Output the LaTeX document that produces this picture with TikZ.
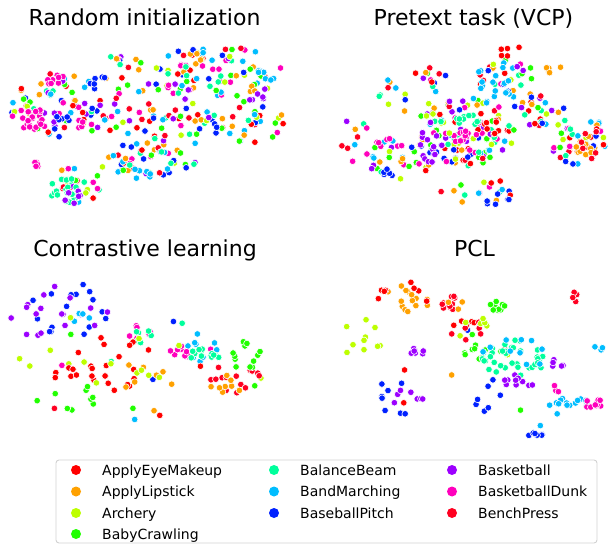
\documentclass[tikz,border=0pt]{standalone}
\usepackage{fontspec}
\setmainfont{DejaVu Sans}
\usepackage{tikz}

\definecolor{eyemakeup}{HTML}{FF0000}
\definecolor{lipstick}{HTML}{FFA100}
\definecolor{archery}{HTML}{BDFF00}
\definecolor{crawling}{HTML}{21FF00}
\definecolor{beam}{HTML}{00FF9C}
\definecolor{marching}{HTML}{00BDFF}
\definecolor{pitch}{HTML}{0021FF}
\definecolor{basketball}{HTML}{9C00FF}
\definecolor{dunk}{HTML}{FF00BD}
\definecolor{bench}{HTML}{FF0021}

\tikzset{
	tsnedot/.style={fill=#1, draw=white, line width=0.6pt},
	paneltitle/.style={font=\fontsize{22}{26}\selectfont, anchor=base},
	legendtext/.style={font=\fontsize{14}{16}\selectfont, anchor=base west, inner sep=0pt},
	legendframe/.style={draw=black!18, line width=0.9pt, rounded corners=3pt}
}

\pgfmathdeclarerandomlist{classes}{{eyemakeup}{lipstick}{archery}{crawling}{beam}{marching}{pitch}{basketball}{dunk}{bench}}

% #6 dots of class #1 spread over an ellipse at (#2,#3), radii #4 and #5
\newcommand\cloud[6]{%
	\foreach \k in {1,...,#6}{
		\pgfmathsetmacro\ang{360*rnd}
		\pgfmathsetmacro\rad{sqrt(rnd)}
		\filldraw[tsnedot=#1] ({#2+#4*\rad*cos(\ang)},{#3+#5*\rad*sin(\ang)}) circle (3.3pt);
	}}
% the same, every dot of a random class
\newcommand\mixcloud[5]{%
	\foreach \k in {1,...,#5}{
		\pgfmathrandomitem{\cls}{classes}
		\pgfmathsetmacro\ang{360*rnd}
		\pgfmathsetmacro\rad{sqrt(rnd)}
		\filldraw[tsnedot=\cls] ({#1+#3*\rad*cos(\ang)},{#2+#4*\rad*sin(\ang)}) circle (3.3pt);
	}}

\begin{document}
\begin{tikzpicture}[x=1pt,y=-1pt]
	\useasboundingbox (0,0) rectangle (613,545);
	\pgfmathsetseed{11}

	\node[paneltitle] (t-random) at (144.5,26) {Random initialization};
	\node[paneltitle] (t-vcp) at (473.5,26) {Pretext task (VCP)};
	\node[paneltitle] (t-contrast) at (145,257) {Contrastive learning};
	\node[paneltitle] (t-pcl) at (474.5,257) {PCL};

	% random initialization
	\mixcloud{215}{72}{68}{26}{85}
	\mixcloud{150}{118}{62}{38}{80}
	\mixcloud{58}{105}{48}{32}{60}
	\mixcloud{245}{122}{40}{22}{35}
	\mixcloud{150}{163}{50}{14}{38}
	\mixcloud{75}{183}{28}{20}{22}
	\mixcloud{120}{68}{25}{14}{12}
	\cloud{dunk}{30}{118}{18}{12}{22}
	\cloud{dunk}{55}{80}{10}{7}{8}
	\cloud{dunk}{40}{163}{7}{5}{5}
	\cloud{dunk}{85}{125}{8}{8}{5}
	\cloud{beam}{65}{190}{25}{14}{20}
	\cloud{pitch}{95}{80}{10}{10}{6}
	\cloud{pitch}{60}{125}{10}{12}{6}
	\cloud{marching}{265}{75}{15}{6}{6}
	\cloud{marching}{140}{175}{15}{10}{6}
	\cloud{basketball}{70}{196}{12}{8}{6}
	\cloud{basketball}{262}{95}{14}{10}{6}

	% pretext task
	\mixcloud{468}{132}{48}{34}{115}
	\mixcloud{415}{92}{38}{28}{28}
	\mixcloud{505}{82}{32}{26}{34}
	\mixcloud{580}{140}{30}{25}{44}
	\mixcloud{540}{110}{25}{18}{22}
	\mixcloud{398}{160}{35}{20}{28}
	\mixcloud{478}{190}{40}{14}{16}
	\mixcloud{360}{140}{20}{28}{10}
	\cloud{marching}{495}{82}{22}{16}{14}
	\cloud{dunk}{465}{137}{14}{6}{10}
	\cloud{dunk}{390}{143}{14}{5}{7}
	\cloud{basketball}{430}{145}{12}{18}{14}
	\cloud{eyemakeup}{492}{127}{14}{7}{8}
	\cloud{beam}{465}{120}{15}{6}{10}
	\cloud{pitch}{389}{173}{8}{4}{6}
	\cloud{eyemakeup}{512}{52}{15}{7}{6}
	\cloud{lipstick}{555}{70}{12}{4}{5}
	\cloud{lipstick}{588}{150}{15}{12}{8}
	\cloud{bench}{592}{145}{16}{14}{6}
	\cloud{pitch}{490}{200}{25}{7}{6}

	% contrastive learning
	\mixcloud{140}{370}{130}{60}{15}
	\cloud{pitch}{70}{310}{40}{28}{16}
	\cloud{basketball}{60}{315}{50}{30}{18}
	\cloud{marching}{85}{320}{15}{10}{4}
	\cloud{marching}{200}{348}{18}{15}{9}
	\cloud{dunk}{180}{353}{10}{7}{11}
	\cloud{beam}{205}{355}{20}{6}{14}
	\cloud{dunk}{140}{333}{12}{8}{6}
	\cloud{beam}{140}{335}{12}{8}{7}
	\cloud{eyemakeup}{110}{365}{45}{30}{18}
	\cloud{bench}{235}{378}{25}{15}{14}
	\cloud{lipstick}{228}{385}{20}{10}{8}
	\cloud{lipstick}{145}{395}{35}{35}{8}
	\cloud{archery}{100}{350}{95}{40}{14}
	\cloud{crawling}{252}{355}{28}{15}{12}
	\cloud{crawling}{90}{400}{60}{15}{10}
	\cloud{eyemakeup}{65}{375}{12}{10}{6}

	% PCL
	\mixcloud{470}{370}{130}{70}{12}
	\cloud{lipstick}{410}{298}{25}{14}{14}
	\cloud{eyemakeup}{405}{296}{28}{14}{8}
	\cloud{bench}{455}{303}{15}{10}{10}
	\cloud{lipstick}{455}{305}{10}{6}{3}
	\cloud{crawling}{500}{306}{12}{6}{10}
	\cloud{bench}{575}{297}{6}{5}{4}
	\cloud{eyemakeup}{460}{323}{15}{3}{5}
	\cloud{archery}{360}{340}{25}{22}{10}
	\cloud{basketball}{420}{352}{10}{5}{9}
	\cloud{crawling}{480}{345}{25}{15}{10}
	\cloud{beam}{515}{360}{35}{20}{36}
	\cloud{marching}{510}{355}{35}{20}{10}
	\cloud{basketball}{520}{382}{20}{8}{10}
	\cloud{basketball}{555}{362}{22}{5}{5}
	\cloud{marching}{568}{403}{20}{6}{14}
	\cloud{dunk}{595}{404}{10}{5}{10}
	\cloud{dunk}{556}{388}{8}{4}{3}
	\cloud{pitch}{395}{400}{22}{20}{8}
	\cloud{basketball}{405}{398}{18}{12}{7}
	\cloud{pitch}{534}{434}{9}{3}{6}
	\cloud{pitch}{485}{395}{25}{20}{6}
	\cloud{marching}{600}{345}{10}{5}{3}
	\cloud{bench}{475}{337}{25}{15}{6}
	\cloud{archery}{470}{330}{30}{25}{6}

	% legend
	\draw[legendframe] (56,460) rectangle (597,543);
	\foreach \cls/\txt/\dx/\ty in {
		eyemakeup/ApplyEyeMakeup/76/470, lipstick/ApplyLipstick/76/491.5,
		archery/Archery/76/513, crawling/BabyCrawling/76/534,
		beam/BalanceBeam/274/470, marching/BandMarching/274/491.5,
		pitch/BaseballPitch/274/513,
		basketball/Basketball/452/470, dunk/BasketballDunk/452/491.5,
		bench/BenchPress/452/513}{
		\fill[\cls] (\dx,\ty) circle (5pt);
		\node[legendtext] (lg-\cls) at (\dx+26,\ty+5) {\txt};
	}
\end{tikzpicture}
\end{document}
